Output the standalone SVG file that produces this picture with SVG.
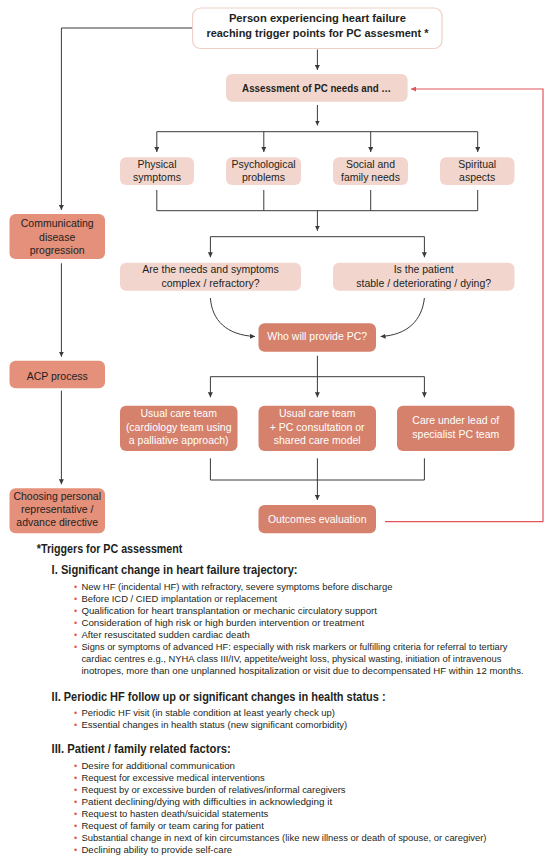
<svg xmlns="http://www.w3.org/2000/svg" width="550" height="864" viewBox="0 0 550 864">
<defs>
<style>
text{font-family:"Liberation Sans",Arial,sans-serif;fill:#231f20}
.bx{font-size:10.5px;text-anchor:middle}
.bb{font-size:10.5px;text-anchor:middle;font-weight:bold}
.wt{fill:#ffffff}
.light{fill:#f2d6ce}
.dark{fill:#d5816b}
.mid{fill:#e5907b}
.ln{fill:none;stroke:#3a3a3a;stroke-width:1}
.red{fill:none;stroke:#e2545c;stroke-width:1.2}
.h{font-weight:bold;font-size:12px}
.li{font-size:9.5px}
.bu{font-size:9px;fill:#e0584c}
</style>
<marker id="ar" viewBox="0 0 8 8" refX="8" refY="4" markerWidth="5" markerHeight="5" markerUnits="userSpaceOnUse" orient="auto"><path d="M0,0 L8,4 L0,8 z" fill="#3a3a3a"/></marker>
<marker id="arr" viewBox="0 0 8 8" refX="8" refY="4" markerWidth="5" markerHeight="5" markerUnits="userSpaceOnUse" orient="auto"><path d="M0,0 L8,4 L0,8 z" fill="#e2545c"/></marker>
</defs>

<g id="connectors">
<path class="ln" d="M192.6,28 H61.4 V210" marker-end="url(#ar)"/>
<path class="ln" d="M61.4,263.3 V356.7" marker-end="url(#ar)"/>
<path class="ln" d="M61.4,390.7 V484.3" marker-end="url(#ar)"/>
<path class="ln" d="M317.4,49.5 V70" marker-end="url(#ar)"/>
<path class="ln" d="M317.4,105 V125.5" marker-end="url(#ar)"/>
<path class="ln" d="M156.8,131.7 H477.7"/>
<path class="ln" d="M156.8,131.7 V152" marker-end="url(#ar)"/>
<path class="ln" d="M263.8,131.7 V152" marker-end="url(#ar)"/>
<path class="ln" d="M370.7,131.7 V152" marker-end="url(#ar)"/>
<path class="ln" d="M477.7,131.7 V152" marker-end="url(#ar)"/>
<path class="ln" d="M156.8,190 V210.7 H477.7 V190"/>
<path class="ln" d="M263.8,190 V210.7"/>
<path class="ln" d="M370.7,190 V210.7"/>
<path class="ln" d="M317.4,210.7 V230.7" marker-end="url(#ar)"/>
<path class="ln" d="M210.4,236.7 H424.4"/>
<path class="ln" d="M210.4,236.7 V257.3" marker-end="url(#ar)"/>
<path class="ln" d="M424.4,236.7 V257.3" marker-end="url(#ar)"/>
<path class="ln" d="M210.4,298 C212,320 226,335 255,336.5" marker-end="url(#ar)"/>
<path class="ln" d="M424.4,298 C422,320 408,335 380.6,336.5" marker-end="url(#ar)"/>
<path class="ln" d="M317.4,355.7 V376.7"/>
<path class="ln" d="M210.4,376.7 H424.4"/>
<path class="ln" d="M210.4,376.7 V397.3" marker-end="url(#ar)"/>
<path class="ln" d="M317.4,376.7 V397.3" marker-end="url(#ar)"/>
<path class="ln" d="M424.4,376.7 V397.3" marker-end="url(#ar)"/>
<path class="ln" d="M210.4,458.3 V480 H424.4 V458.3"/>
<path class="ln" d="M317.4,458.3 V500" marker-end="url(#ar)"/>
<path class="red" d="M385,521.7 H543 V89 H411" marker-end="url(#arr)"/>
</g>

<g id="start">
<rect x="192.6" y="8" width="249.4" height="40.5" rx="8" fill="#ffffff" stroke="#f0cfc6" stroke-width="1.2"/>
<text class="bb" x="317.4" y="22" font-size="11" textLength="177" lengthAdjust="spacingAndGlyphs">Person experiencing heart failure</text>
<text class="bb" x="317.4" y="37" font-size="11" textLength="222" lengthAdjust="spacingAndGlyphs">reaching trigger points for PC assesment *</text>
</g>
<g id="assessment">
<rect class="light" x="226" y="74" width="181.6" height="27.7" rx="6"/>
<text class="bb" x="316.6" y="91.7" textLength="149" lengthAdjust="spacingAndGlyphs">Assessment of PC needs and …</text>
</g>
<g id="physical">
<rect class="light" x="120" y="157.3" width="74" height="27.7" rx="6"/>
<text class="bx" x="157" y="167.9">Physical</text><text class="bx" x="157" y="181.3">symptoms</text>
</g>
<g id="psychological">
<rect class="light" x="226" y="157.3" width="75" height="27.7" rx="6"/>
<text class="bx" x="263.5" y="167.9">Psychological</text><text class="bx" x="263.5" y="181.3">problems</text>
</g>
<g id="social">
<rect class="light" x="333" y="157.3" width="75" height="27.7" rx="6"/>
<text class="bx" x="370.5" y="167.9">Social and</text><text class="bx" x="370.5" y="181.3">family needs</text>
</g>
<g id="spiritual">
<rect class="light" x="440" y="157.3" width="74.5" height="27.7" rx="6"/>
<text class="bx" x="477.2" y="167.9">Spiritual</text><text class="bx" x="477.2" y="181.3">aspects</text>
</g>
<g id="complex">
<rect class="light" x="120" y="262.7" width="181" height="28" rx="6"/>
<text class="bx" x="210.5" y="272.9">Are the needs and symptoms</text><text class="bx" x="210.5" y="286.9">complex / refractory?</text>
</g>
<g id="stable">
<rect class="light" x="333" y="262.7" width="181.5" height="28" rx="6"/>
<text class="bx" x="423.7" y="272.9">Is the patient</text><text class="bx" x="423.7" y="286.9">stable / deteriorating / dying?</text>
</g>
<g id="communicating">
<rect class="mid" x="9.5" y="214" width="95.5" height="45" rx="6"/>
<text class="bx" x="57.2" y="226.9">Communicating</text><text class="bx" x="57.2" y="240.9">disease</text><text class="bx" x="57.2" y="254.3">progression</text>
</g>
<g id="acp">
<rect class="mid" x="9.5" y="360.7" width="95.5" height="27.6" rx="6"/>
<text class="bx" x="57.2" y="379.6">ACP process</text>
</g>
<g id="choosing">
<rect class="mid" x="9.5" y="488.3" width="95.5" height="45" rx="6"/>
<text class="bx" x="57.2" y="499.6">Choosing personal</text><text class="bx" x="57.2" y="513">representative /</text><text class="bx" x="57.2" y="526">advance directive</text>
</g>
<g id="who">
<rect class="dark" x="258.5" y="323.3" width="117.5" height="28.4" rx="6"/>
<text class="bx wt" x="317.2" y="340.3">Who will provide PC?</text>
</g>
<g id="usual">
<rect class="dark" x="120" y="405.7" width="117.5" height="45.3" rx="6"/>
<text class="bx wt" x="178.7" y="416.9">Usual care team</text><text class="bx wt" x="178.7" y="430.9">(cardiology team using</text><text class="bx wt" x="178.7" y="443.6">a palliative approach)</text>
</g>
<g id="shared">
<rect class="dark" x="258.5" y="405.7" width="117.5" height="45.3" rx="6"/>
<text class="bx wt" x="317.2" y="416.9">Usual care team</text><text class="bx wt" x="317.2" y="430.9">+ PC consultation or</text><text class="bx wt" x="317.2" y="443.6">shared care model</text>
</g>
<g id="specialist">
<rect class="dark" x="397" y="405.7" width="117.5" height="45.3" rx="6"/>
<text class="bx wt" x="455.8" y="424.3">Care under lead of</text><text class="bx wt" x="455.8" y="437.9">specialist PC team</text>
</g>
<g id="outcomes">
<rect class="dark" x="258.5" y="505" width="117.5" height="28.3" rx="6"/>
<text class="bx wt" x="317.2" y="522.6">Outcomes evaluation</text>
</g>

<g id="triggers">
<text class="h" x="36.8" y="553.3" textLength="145.6" lengthAdjust="spacingAndGlyphs">*Triggers for PC assessment</text>
<text class="h" x="51.6" y="574.2" font-size="12.5" textLength="246" lengthAdjust="spacingAndGlyphs">I. Significant change in heart failure trajectory:</text>
<text class="bu" x="74" y="590">•</text><text class="li" x="81.4" y="590" textLength="311" lengthAdjust="spacingAndGlyphs">New HF (incidental HF) with refractory, severe symptoms  before discharge</text>
<text class="bu" x="74" y="601.6">•</text><text class="li" x="81.4" y="601.6" textLength="195.7" lengthAdjust="spacingAndGlyphs">Before ICD / CIED implantation or replacement</text>
<text class="bu" x="74" y="614">•</text><text class="li" x="81.4" y="614" textLength="295.6" lengthAdjust="spacingAndGlyphs">Qualification for heart transplantation or mechanic circulatory support</text>
<text class="bu" x="74" y="626">•</text><text class="li" x="81.4" y="626" textLength="282.7" lengthAdjust="spacingAndGlyphs">Consideration of high risk or high burden intervention or treatment</text>
<text class="bu" x="74" y="637.6">•</text><text class="li" x="81.4" y="637.6" textLength="168.3" lengthAdjust="spacingAndGlyphs">After resuscitated sudden cardiac death</text>
<text class="bu" x="74" y="650">•</text><text class="li" x="81.4" y="650" textLength="426" lengthAdjust="spacingAndGlyphs">Signs or symptoms of advanced HF: especially with risk markers or fulfilling criteria for referral to tertiary</text>
<text class="li" x="81.4" y="662.3" textLength="420" lengthAdjust="spacingAndGlyphs">cardiac centres e.g., NYHA class III/IV, appetite/weight loss, physical wasting, initiation of intravenous</text>
<text class="li" x="81.4" y="674.3" textLength="442.3" lengthAdjust="spacingAndGlyphs">inotropes, more than one unplanned hospitalization or visit due to decompensated HF within 12 months.</text>
<text class="h" x="51.6" y="700.9" font-size="12.5" textLength="334" lengthAdjust="spacingAndGlyphs">II. Periodic HF follow up or significant changes in health status :</text>
<text class="bu" x="74" y="716">•</text><text class="li" x="81.4" y="716" textLength="253.6" lengthAdjust="spacingAndGlyphs">Periodic HF visit (in stable condition at least yearly check up)</text>
<text class="bu" x="74" y="727.6">•</text><text class="li" x="81.4" y="727.6" textLength="265.8" lengthAdjust="spacingAndGlyphs">Essential changes in health status (new significant comorbidity)</text>
<text class="h" x="51.6" y="753.2" font-size="12.5" textLength="179.2" lengthAdjust="spacingAndGlyphs">III. Patient / family related factors:</text>
<text class="bu" x="74" y="769">•</text><text class="li" x="81.4" y="769" textLength="153.6" lengthAdjust="spacingAndGlyphs">Desire for additional communication</text>
<text class="bu" x="74" y="781">•</text><text class="li" x="81.4" y="781" textLength="183.4" lengthAdjust="spacingAndGlyphs">Request for excessive medical interventions</text>
<text class="bu" x="74" y="793">•</text><text class="li" x="81.4" y="793" textLength="264.1" lengthAdjust="spacingAndGlyphs">Request by or excessive burden of relatives/informal caregivers</text>
<text class="bu" x="74" y="805">•</text><text class="li" x="81.4" y="805" textLength="250.8" lengthAdjust="spacingAndGlyphs">Patient declining/dying with difficulties in acknowledging it</text>
<text class="bu" x="74" y="816.6">•</text><text class="li" x="81.4" y="816.6" textLength="186.9" lengthAdjust="spacingAndGlyphs">Request to hasten death/suicidal statements</text>
<text class="bu" x="74" y="828.6">•</text><text class="li" x="81.4" y="828.6" textLength="182.4" lengthAdjust="spacingAndGlyphs">Request of family or team caring for patient</text>
<text class="bu" x="74" y="841">•</text><text class="li" x="81.4" y="841" textLength="405.1" lengthAdjust="spacingAndGlyphs">Substantial change in next of kin circumstances (like new illness or death of spouse, or caregiver)</text>
<text class="bu" x="74" y="853.3">•</text><text class="li" x="81.4" y="853.3" textLength="150.8" lengthAdjust="spacingAndGlyphs">Declining ability to provide self-care</text>
</g>
</svg>
